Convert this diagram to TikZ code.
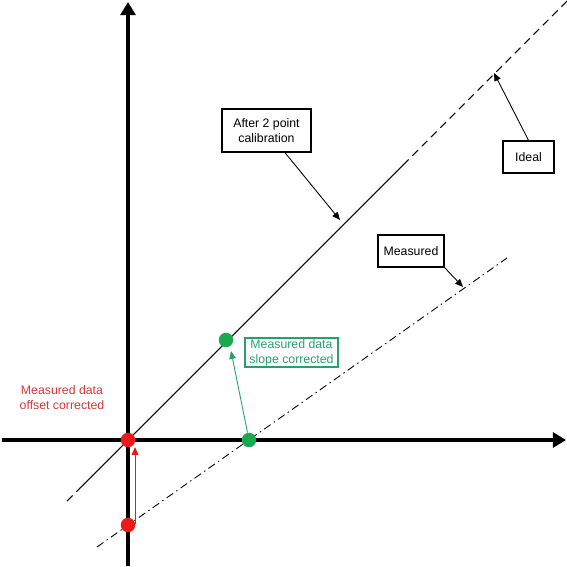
\documentclass[tikz,border=0pt]{standalone}
\usepackage{fontspec}
\setmainfont{Liberation Sans}
\usetikzlibrary{arrows.meta}
\definecolor{ptred}{RGB}{235,25,25}
\definecolor{txtred}{RGB}{215,55,55}
\definecolor{ptgreen}{RGB}{25,170,80}
\definecolor{txtgreen}{RGB}{40,160,110}

\begin{document}
\begin{tikzpicture}[x=0.02cm,y=-0.02cm,
        axis/.style={line width=2.3pt,-{Triangle[length=7.5pt,width=8.5pt]}},
        labelbox/.style={draw,line width=0.8pt,align=center,inner sep=0pt,font=\fontsize{7}{8.6}\selectfont},
        pointer/.style={line width=0.5pt,-{Triangle[length=4.5pt,width=3.8pt]}},
        dot/.style={circle,inner sep=0pt,minimum size=0.29cm}]
        \useasboundingbox (0,0) rectangle (567,567);

        % Draw the axes
        \draw[axis] (2,440) -- (566,440);
        \draw[axis] (128,566) -- (128,2);

        % Ideal line: solid in the middle, dashed at both ends
        \coordinate (idealA) at (67,501);
        \coordinate (idealB) at (80,488);
        \coordinate (idealC) at (403,165);
        \coordinate (idealD) at (567,1);
        \draw[line width=0.6pt, dash pattern=on 4.5pt off 3pt] (idealA) -- (idealB);
        \draw[line width=0.6pt] (idealB) -- (idealC);
        \draw[line width=0.6pt, dash pattern=on 4.5pt off 3pt] (idealC) -- (idealD);

        % Measured line (dash dot)
        \coordinate (measA) at (97,547);
        \coordinate (measB) at (507,258);
        \draw[line width=0.5pt, dash pattern=on 4.5pt off 2.2pt on 0.8pt off 2.2pt] (measA) -- (measB);

        % Labels with their pointers
        \node[labelbox, minimum width=1.78cm, minimum height=0.86cm] (after) at (266.5,130.5) {After 2 point\\calibration};
        \node[labelbox, minimum width=1.02cm, minimum height=0.64cm] (ideal) at (528.5,157) {Ideal};
        \node[labelbox, minimum width=1.32cm, minimum height=0.64cm] (measured) at (411,251) {Measured};
        \coordinate (afterTip) at (340,220);
        \coordinate (idealTip) at (494,73);
        \coordinate (measuredTip) at (463,287);
        \draw[pointer] ([xshift=0.37cm]after.south) -- (afterTip);
        \draw[pointer] (ideal.north) -- (idealTip);
        \draw[pointer] (measured.south east) -- (measuredTip);

        % Slope correction (green)
        \node[dot, fill=ptgreen] (gmeas) at (249,440) {};
        \node[dot, fill=ptgreen] (gcorr) at (226,340) {};
        \coordinate (gtip) at (231,351);
        \draw[txtgreen, line width=0.5pt, -{Triangle[length=4.5pt,width=3.8pt]}] (gmeas) -- (gtip);
        \node[labelbox, draw=txtgreen, text=txtgreen, line width=0.6pt, minimum width=1.86cm, minimum height=0.58cm] (slope) at (291.5,352.5) {Measured data\\slope corrected};

        % Offset correction (red)
        \node[dot, fill=ptred] (rmeas) at (128,525) {};
        \node[dot, fill=ptred] (rcorr) at (128,440) {};
        \coordinate (rstart) at (135,524);
        \coordinate (rtip) at (135,447);
        \draw[ptred, line width=0.5pt, -{Triangle[length=4.5pt,width=3.8pt]}] (rstart) -- (rtip);
        \node[text=txtred, align=center, font=\fontsize{7}{8.6}\selectfont] (offset) at (62,398) {Measured data\\offset corrected};
\end{tikzpicture}
\end{document}
